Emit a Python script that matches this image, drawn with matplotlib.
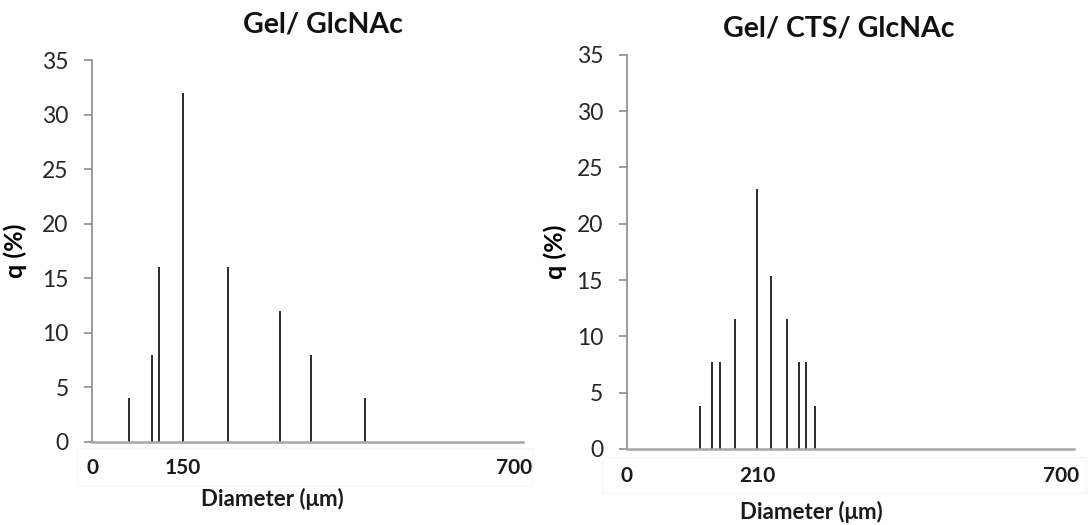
import matplotlib
matplotlib.use("Agg")
import matplotlib.pyplot as plt
from matplotlib.patches import Rectangle

plt.rcParams['font.family'] = ['Lato', 'DejaVu Sans']

# Size distribution of particles: diameter (µm) and frequency q (%)
gel_diam = [61, 99, 111, 150, 226, 312, 363, 452]
gel_q = [4, 8, 16, 32, 16, 12, 8, 4]

cts_diam = [118, 137, 150, 175, 210, 233, 258, 278, 290, 303]
cts_q = [3.85, 7.69, 7.69, 11.54, 23.08, 15.38, 11.54, 7.69, 7.69, 3.85]

titles = ["Gel/ GlcNAc", "Gel/ CTS/ GlcNAc"]
gel_xticks = [0, 150, 700]
cts_xticks = [0, 210, 700]
yticks = [0, 5, 10, 15, 20, 25, 30, 35]

fig = plt.figure(figsize=(10.88, 5.25), dpi=100)

panels = [
    dict(rect=[0.0848, 0.1587, 0.3961, 0.7264], x=gel_diam, y=gel_q,
         xt=gel_xticks, xmax=715, title=titles[0],
         title_xy=(323 / 1088, 1 - 25 / 525),
         xlabel_xy=(272 / 1088, 1 - 499 / 525),
         ylabel_x=-0.152,
         box=(76.7, 448, 455, 38)),
    dict(rect=[0.5760, 0.1448, 0.4114, 0.7510], x=cts_diam, y=cts_q,
         xt=cts_xticks, xmax=722, title=titles[1],
         title_xy=(839 / 1088, 1 - 28 / 525),
         xlabel_xy=(811 / 1088, 1 - 512 / 525),
         ylabel_x=-0.134,
         box=(601.7, 456.7, 484, 36)),
]

axis_grey = "#8c8c8c"

for p in panels:
    ax = fig.add_axes(p["rect"])
    ax.vlines(p["x"], 0, p["y"], colors="#2b2b2b", linewidth=1.4)
    ax.set_xlim(0, p["xmax"])
    ax.set_ylim(0, 35)
    ax.set_yticks(yticks)
    ax.set_xticks(p["xt"])
    ax.set_xticklabels([str(v) for v in p["xt"]], fontweight="bold", fontsize=15)
    ax.tick_params(axis="x", length=0, pad=12, colors="#1a1a1a")
    ax.tick_params(axis="y", length=6, width=1.2, color=axis_grey, pad=11,
                   labelsize=16.5, labelcolor="#262626")
    for s in ("top", "right"):
        ax.spines[s].set_visible(False)
    ax.spines["left"].set_color(axis_grey)
    ax.spines["left"].set_linewidth(1.2)
    ax.spines["bottom"].set_color("#a6a6a6")
    ax.spines["bottom"].set_linewidth(1.8)
    ax.set_ylabel("q (%)", fontweight="bold", fontsize=18)
    ax.yaxis.set_label_coords(p["ylabel_x"], 0.5)

    fig.text(p["title_xy"][0], p["title_xy"][1], p["title"], ha="center",
             va="center", fontweight="bold", fontsize=20.5, color="#111111")
    fig.text(p["xlabel_xy"][0], p["xlabel_xy"][1], "Diameter (μm)", ha="center",
             va="center", fontweight="bold", fontsize=16, color="#1a1a1a")

    bx, by, bw, bh = p["box"]
    fig.patches.append(Rectangle((bx / 1088, 1 - (by + bh) / 525), bw / 1088,
                                 bh / 525, transform=fig.transFigure,
                                 fill=False, edgecolor="#f6f6f6", linewidth=0.8))

fig.savefig("out.png", dpi=100)
